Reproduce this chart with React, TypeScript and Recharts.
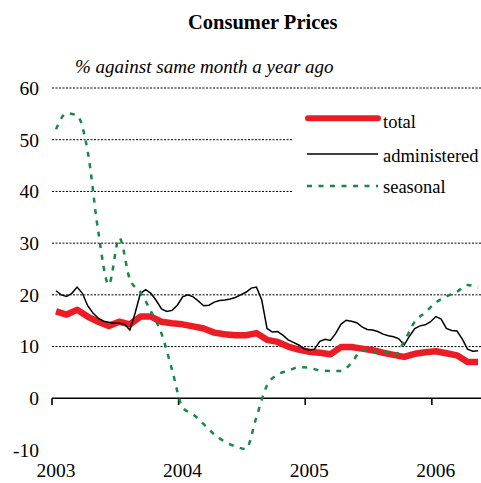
import React from 'react';
import { LineChart, Line, XAxis, YAxis, ReferenceLine } from 'recharts';

// Monthly values, Jan 2003 .. May 2006
const totalValues = [
  16.8, 16.2, 17.1, 15.8, 14.8, 14.0, 14.8, 14.3, 15.8, 15.8, 14.8, 14.5,
  14.3, 13.9, 13.5, 12.7, 12.4, 12.2, 12.2, 12.6, 11.3, 10.9, 10.0, 9.4,
  9.0, 8.8, 8.5, 9.9, 9.9, 9.6, 9.3, 8.8, 8.4, 8.0, 8.6, 8.9,
  9.1, 8.7, 8.3, 7.0, 7.0,
];

const seasonalValues = [
  52.0, 55.1, 54.7, 47.8, 32.3, 22.0, 31.0, 23.0, 20.5, 16.8, 12.5, 5.5,
  -1.8, -3.1, -5.0, -7.0, -8.4, -9.3, -9.8, -3.6, 2.5, 4.6, 5.3, 6.0,
  5.9, 5.4, 5.3, 5.3, 6.8, 9.3, 8.9, 9.1, 8.2, 11.0, 14.8, 16.6,
  18.5, 19.7, 20.6, 21.9, 21.4,
];

// Half-monthly values, Jan 2003 .. May 2006
const administeredValues = [
  20.8, 20.0, 19.7, 20.3, 21.5, 20.3, 17.9, 16.5, 15.5, 14.9, 14.7, 14.5,
  14.5, 14.3, 13.2, 16.5, 20.3, 21.0, 20.3, 18.9, 17.3, 16.8, 17.0, 18.0,
  19.6, 20.0, 19.6, 18.8, 17.9, 18.0, 18.6, 18.9, 19.0, 19.2, 19.5, 20.0,
  20.5, 21.3, 21.5, 19.0, 13.5, 12.8, 12.9, 12.2, 11.3, 10.8, 10.3, 9.6,
  9.3, 9.5, 11.0, 11.4, 11.2, 12.5, 14.3, 15.1, 14.9, 14.6, 13.8, 13.3,
  13.2, 12.9, 12.4, 12.1, 11.9, 11.5, 10.3, 12.0, 13.5, 14.0, 14.2, 14.8,
  15.8, 15.3, 13.5, 13.1, 13.0, 11.5, 9.5, 9.1, 9.2,
];

const yearLabels = ['2003', '2004', '2005', '2006'];
const yTicks = [-10, 0, 10, 20, 30, 40, 50, 60];
const gridValues = [10, 20, 30, 40, 50, 60];

const OFFSET = 0.38;
const totalData = totalValues.map((v, i) => ({ x: i + OFFSET, v }));
const seasonalData = seasonalValues.map((v, i) => ({ x: i + OFFSET, v }));
const administeredData = administeredValues.map((v, i) => ({ x: i / 2 + OFFSET, v }));
const yearTickPositions = yearLabels.map((_, i) => i * 12 + OFFSET);
const yearBoundaries = yearLabels.map((_, i) => i * 12);

const FONT = '"Liberation Serif", "Times New Roman", serif';
const RED = '#ED1C24';
const GREEN = '#168A42';

export default function App() {
  return (
    <div style={{ position: 'absolute', left: 0, top: 0, width: 481, height: 483, background: '#fff', fontFamily: FONT }}>
      <LineChart
        width={481}
        height={483}
        margin={{ top: 88, right: 0, bottom: 0, left: 0 }}
        style={{ position: 'absolute', left: 0, top: 0 }}
      >
        <XAxis
          type="number"
          dataKey="x"
          domain={[0, 40.66]}
          ticks={yearTickPositions}
          tickFormatter={(v: number) => yearLabels[Math.round((v - OFFSET) / 12)]}
          axisLine={false}
          tickLine={false}
          tickSize={0}
          tickMargin={13}
          height={33}
          interval={0}
          allowDataOverflow
          tick={{ fontSize: 19.5, fill: '#000', fontFamily: FONT }}
        />
        <YAxis
          type="number"
          domain={[-10, 60]}
          ticks={yTicks}
          axisLine={false}
          tickLine={false}
          tickSize={0}
          tickMargin={13}
          width={52}
          interval={0}
          tick={{ fontSize: 19.5, fill: '#000', fontFamily: FONT }}
        />
        {gridValues.map((g) => (
          <ReferenceLine key={g} y={g} stroke="#000" strokeWidth={1} strokeDasharray="2 1.5" />
        ))}
        <ReferenceLine y={0} stroke="#000" strokeWidth={1.6} />
        {yearBoundaries.map((b) => (
          <ReferenceLine
            key={'t' + b}
            segment={[{ x: b, y: 0 }, { x: b, y: -1.3 }]}
            stroke="#000"
            strokeWidth={1.6}
          />
        ))}
        <Line
          data={totalData}
          dataKey="v"
          type="linear"
          stroke={RED}
          strokeWidth={6.5}
          dot={false}
          isAnimationActive={false}
          strokeLinejoin="round"
        />
        <Line
          data={administeredData}
          dataKey="v"
          type="linear"
          stroke="#000"
          strokeWidth={1.5}
          dot={false}
          isAnimationActive={false}
        />
        <Line
          data={seasonalData}
          dataKey="v"
          type="monotone"
          stroke={GREEN}
          strokeWidth={2.5}
          strokeDasharray="5 6.5"
          dot={false}
          isAnimationActive={false}
        />
      </LineChart>
      <svg
        width={481}
        height={483}
        style={{ position: 'absolute', left: 0, top: 0, pointerEvents: 'none' }}
      >
        <text x={188} y={29.3} fontFamily={FONT} fontWeight="bold" fontSize={20.5} fill="#000">
          Consumer Prices
        </text>
        <text x={75} y={73.3} fontFamily={FONT} fontStyle="italic" fontSize={19} fill="#000">
          % against same month a year ago
        </text>
        <rect x={292} y={97} width={189} height={136} fill="#fff" />
        <line x1={308} y1={118.3} x2={378} y2={118.3} stroke={RED} strokeWidth={6} strokeLinecap="round" />
        <text x={383} y={128} fontFamily={FONT} fontSize={18.5} fill="#000">total</text>
        <line x1={307} y1={154} x2={378} y2={154} stroke="#000" strokeWidth={1.5} />
        <text x={383} y={161.5} fontFamily={FONT} fontSize={18.5} fill="#000">administered</text>
        <line x1={307} y1={186} x2={378} y2={186} stroke={GREEN} strokeWidth={2.5} strokeDasharray="5 6.5" />
        <text x={383} y={193.3} fontFamily={FONT} fontSize={18.5} fill="#000">seasonal</text>
      </svg>
    </div>
  );
}
